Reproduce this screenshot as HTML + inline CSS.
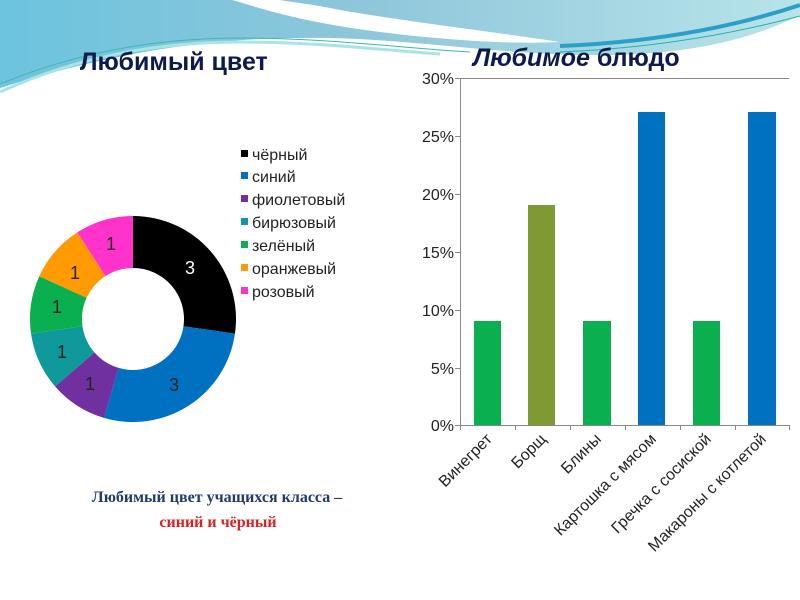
<!DOCTYPE html>
<html><head><meta charset="utf-8"><style>
body{margin:0;width:800px;height:600px;overflow:hidden;background:#fff}
svg{display:block}
</style></head><body>
<svg width="800" height="600" xmlns="http://www.w3.org/2000/svg" font-family="Liberation Sans, sans-serif">
<defs>
<linearGradient id="g1" x1="0" y1="0" x2="1" y2="0">
<stop offset="0" stop-color="#6cc4de"/><stop offset="0.45" stop-color="#8ec6da"/><stop offset="1" stop-color="#b8e4ea"/>
</linearGradient>
</defs>
<rect width="800" height="600" fill="#fff"/>
<path d="M0 0 H800 V15 C760 35 700 55 600 55 C500 55 420 40 330 38 C220 36 120 50 0 88 Z" fill="url(#g1)"/>
<path d="M232 0 C260 8 300 22 380 32 C460 42 520 44 560 42 C480 30 380 18 330 8 C310 4 290 2 280 0 Z" fill="#fff"/>
<path d="M0 92 C70 60 150 42 240 42 C320 42 380 50 440 54" stroke="#a8e4e4" stroke-width="3" fill="none"/>
<path d="M0 84 C70 55 150 38 240 38 C330 38 400 48 470 52" stroke="#3cb8b0" stroke-width="1" fill="none"/>
<path d="M560 46 C660 42 740 25 800 5" stroke="#2aa0c8" stroke-width="4" fill="none"/>
<path d="M560 52 C660 48 740 32 800 16" stroke="#25b0a8" stroke-width="1" fill="none"/>

<text x="80" y="70" font-size="25" font-weight="bold" fill="#0d1a4a">Любимый цвет</text>
<text x="473" y="66" font-size="25" font-weight="bold" fill="#0d1a4a"><tspan font-style="italic">Любимое</tspan> блюдо</text>

<path d="M133 216 A103 103 0 0 1 234.95 333.66 L183.48 326.26 A51 51 0 0 0 133 268 Z" fill="#000"/>
<path d="M234.95 333.66 A103 103 0 0 1 103.98 417.83 L118.63 367.93 A51 51 0 0 0 183.48 326.26 Z" fill="#0070c0"/>
<path d="M103.98 417.83 A103 103 0 0 1 55.16 386.45 L94.46 352.4 A51 51 0 0 0 118.63 367.93 Z" fill="#7030a0"/>
<path d="M55.16 386.45 A103 103 0 0 1 31.05 333.66 L82.52 326.26 A51 51 0 0 0 94.46 352.4 Z" fill="#10999a"/>
<path d="M31.05 333.66 A103 103 0 0 1 39.31 276.21 L86.61 297.81 A51 51 0 0 0 82.52 326.26 Z" fill="#0aaf50"/>
<path d="M39.31 276.21 A103 103 0 0 1 77.32 232.35 L105.43 276.09 A51 51 0 0 0 86.61 297.81 Z" fill="#ff9a00"/>
<path d="M77.32 232.35 A103 103 0 0 1 133 216 L133 268 A51 51 0 0 0 105.43 276.09 Z" fill="#ff33cc"/>
<g font-size="18" text-anchor="middle">
<text x="190" y="274" fill="#fff">3</text>
<text x="174" y="391" fill="#222">3</text>
<text x="90" y="390" fill="#222">1</text>
<text x="62" y="358" fill="#222">1</text>
<text x="57" y="313" fill="#222">1</text>
<text x="75" y="279" fill="#222">1</text>
<text x="111" y="250" fill="#222">1</text>
</g>
<g font-size="16" fill="#222">
<rect x="241" y="150" width="7" height="7" fill="#000"/><text x="252" y="160">чёрный</text>
<rect x="241" y="172" width="7" height="7" fill="#0070c0"/><text x="252" y="182">синий</text>
<rect x="241" y="195" width="7" height="7" fill="#7030a0"/><text x="252" y="205">фиолетовый</text>
<rect x="241" y="218" width="7" height="7" fill="#10999a"/><text x="252" y="228">бирюзовый</text>
<rect x="241" y="241" width="7" height="7" fill="#0aaf50"/><text x="252" y="251">зелёный</text>
<rect x="241" y="264" width="7" height="7" fill="#ff9a00"/><text x="252" y="274">оранжевый</text>
<rect x="241" y="287" width="7" height="7" fill="#ff33cc"/><text x="252" y="297">розовый</text>
</g>

<g stroke="#888" stroke-width="1">
<line x1="460" y1="78.5" x2="789" y2="78.5"/>
<line x1="460.5" y1="78" x2="460.5" y2="426"/>
<line x1="455" y1="78.5" x2="460" y2="78.5"/>
<line x1="455" y1="136.5" x2="460" y2="136.5"/>
<line x1="455" y1="194.5" x2="460" y2="194.5"/>
<line x1="455" y1="252.5" x2="460" y2="252.5"/>
<line x1="455" y1="310.5" x2="460" y2="310.5"/>
<line x1="455" y1="368.5" x2="460" y2="368.5"/>
<line x1="455" y1="425.5" x2="789" y2="425.5"/>
<line x1="515.5" y1="425" x2="515.5" y2="430"/>
<line x1="570.5" y1="425" x2="570.5" y2="430"/>
<line x1="625.5" y1="425" x2="625.5" y2="430"/>
<line x1="680.5" y1="425" x2="680.5" y2="430"/>
<line x1="735.5" y1="425" x2="735.5" y2="430"/>
<line x1="789.5" y1="425" x2="789.5" y2="430"/>
<line x1="460.5" y1="425" x2="460.5" y2="430"/>
</g>
<g font-size="16" fill="#222" text-anchor="end">
<text x="454" y="84">30%</text>
<text x="454" y="142">25%</text>
<text x="454" y="200">20%</text>
<text x="454" y="258">15%</text>
<text x="454" y="316">10%</text>
<text x="454" y="374">5%</text>
<text x="454" y="431">0%</text>
</g>
<rect x="474" y="321" width="27" height="104" fill="#0aaf50"/>
<rect x="528" y="205" width="27" height="220" fill="#7f9a32"/>
<rect x="583" y="321" width="28" height="104" fill="#0aaf50"/>
<rect x="638" y="112" width="27" height="313" fill="#0070c0"/>
<rect x="693" y="321" width="27" height="104" fill="#0aaf50"/>
<rect x="748" y="112" width="28" height="313" fill="#0070c0"/>
<g font-size="16" fill="#222" text-anchor="end">
<text transform="translate(493,440) rotate(-45)">Винегрет</text>
<text transform="translate(547,440) rotate(-45)">Борщ</text>
<text transform="translate(602,440) rotate(-45)">Блины</text>
<text transform="translate(657,440) rotate(-45)">Картошка с мясом</text>
<text transform="translate(712,440) rotate(-45)">Гречка с сосиской</text>
<text transform="translate(767,440) rotate(-45)">Макароны с котлетой</text>
</g>

<g font-family="Liberation Serif, serif" font-size="16" font-weight="bold" text-anchor="middle">
<text x="217" y="502" fill="#1f3a6e">Любимый цвет учащихся класса –</text>
<text x="218" y="527" fill="#e0201e">синий и чёрный</text>
</g>
</svg>
</body></html>
